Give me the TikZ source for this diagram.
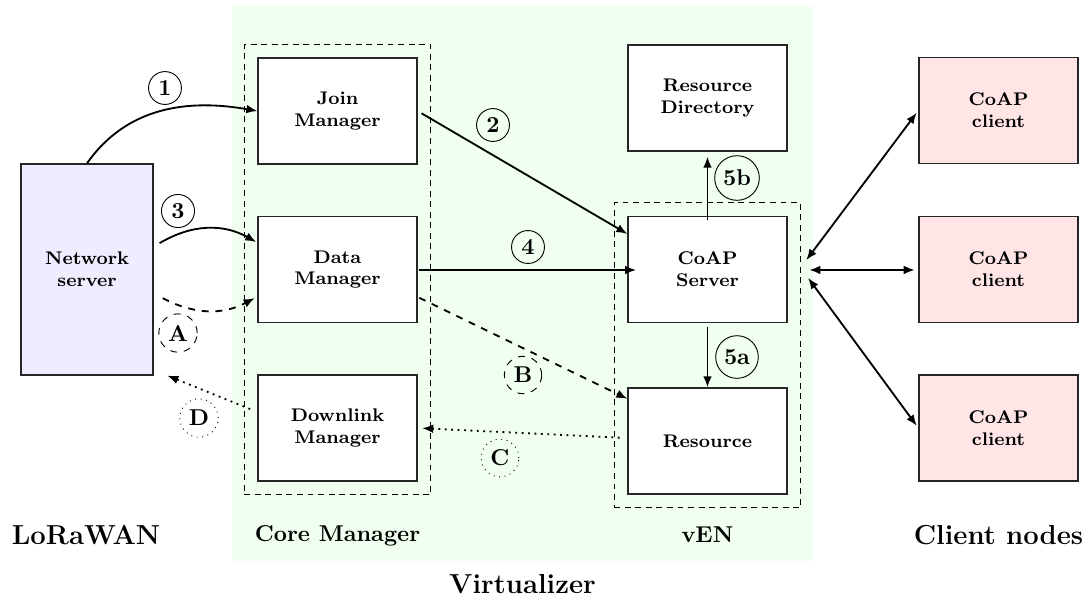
\documentclass[tikz,border=0pt]{standalone}
\usetikzlibrary{arrows.meta,fit,calc}
\begin{document}
\begin{tikzpicture}[x=0.4367pt,y=-0.4367pt,
  box/.style={draw=black!85, semithick, fill=white, minimum width=69.4pt, minimum height=46.3pt, align=center, font=\footnotesize\bfseries, inner sep=1pt},
  arr/.style={thick, -{Latex[length=4.8pt,width=3.8pt]}},
  biarr/.style={thick, {Latex[length=4.8pt,width=3.8pt]}-{Latex[length=4.8pt,width=3.8pt]}},
  num/.style={circle, draw, line width=0.4pt, inner sep=2pt, font=\bfseries},
  grp/.style={draw, line width=0.5pt, dash pattern=on 2.6pt off 2pt, inner sep=5.7pt},
  sect/.style={font=\bfseries, anchor=base},
  big/.style={font=\large\bfseries, anchor=base}
]
\useasboundingbox (0,0) rectangle (1091,600);
\fill[green!6] (232,6) rectangle (813,561);

% nodes
\node[box, fill=blue!7, minimum width=57.6pt, minimum height=92.1pt] (ns) at (87,269.5) {Network\\server};
\node[box] (join) at (337.5,111) {Join\\Manager};
\node[box] (data) at (337.5,269.5) {Data\\Manager};
\node[box] (down) at (337.5,428) {Downlink\\Manager};
\node[box] (rd) at (707.5,98) {Resource\\Directory};
\node[box] (coap) at (707.5,269.5) {CoAP\\Server};
\node[box] (res) at (707.5,441) {Resource};
\node[box, fill=red!10] (c1) at (998.5,110.5) {CoAP\\client};
\node[box, fill=red!10] (c2) at (998.5,269.5) {CoAP\\client};
\node[box, fill=red!10] (c3) at (998.5,428) {CoAP\\client};

\node[grp, fit=(join)(down)] (core) {};
\node[grp, fit=(coap)(res)] (ven) {};

% section labels
\node[big] (lora) at (86,544) {LoRaWAN};
\node[sect] (corel) at (337.5,541) {Core Manager};
\node[sect] (venl) at (707.5,542) {vEN};
\node[big] (cln) at (998.5,544) {Client nodes};
\node[big] (virt) at (522.5,593) {Virtualizer};

% connectors
\draw[arr] (ns.north) to[out=55,in=170] (join.west);
\draw[arr, shorten <=2pt] (join.east) -- ([yshift=-7.9pt]coap.north west);
\draw[arr] ([xshift=2.6pt,yshift=11.5pt]ns.east) to[bend left=30] ([xshift=-0.5pt,yshift=12pt]data.west);
\draw[arr, shorten <=0.8pt, shorten >=-3.8pt] ([yshift=-0.2pt]data.east) -- ([yshift=-0.2pt]coap.west);
\draw[arr, shorten <=-1.8pt, shorten >=2.2pt] (coap.north) -- (rd.south);
\draw[arr, shorten <=1.7pt] (coap.south) -- (res.north);
\draw[arr, dashed] ([xshift=4pt,yshift=-12.5pt]ns.east) to[bend right=28] ([xshift=-1.2pt,yshift=-12.5pt]data.west);
\draw[arr, dashed, shorten <=0.8pt] ([yshift=-12pt]data.east) -- ([yshift=-5pt]res.north west);
\draw[arr, dotted, shorten <=3.4pt, shorten >=2pt] ([yshift=1.3pt]res.west) -- (down.east);
\draw[arr, dotted, shorten <=3.4pt] ([yshift=7pt]down.west) -- ([xshift=6pt]ns.south east);

\coordinate (hub) at (ven.east |- coap.east);
\draw[biarr, shorten >=1.2pt] ([xshift=2.2pt,yshift=4.1pt]hub) -- (c1.west);
\draw[biarr, shorten >=1.6pt] ([xshift=3.5pt,yshift=-0.2pt]hub) -- ([yshift=-0.2pt]c2.west);
\draw[biarr, shorten >=1.2pt] ([xshift=3pt,yshift=-3.7pt]hub) -- (c3.west);

% step labels
\node[num] (l1) at (165,88) {1};
\node[num] (l2) at (493,125) {2};
\node[num] (l3) at (178,211) {3};
\node[num] (l4) at (528,247) {4};
\node[num] (l5b) at (737,178) {5b};
\node[num] (l5a) at (737,357) {5a};
\node[num, dashed] (lA) at (178,333) {A};
\node[num, dashed] (lB) at (523,375) {B};
\node[num, dotted] (lC) at (500,458) {C};
\node[num, dotted] (lD) at (199,418) {D};
\end{tikzpicture}
\end{document}
